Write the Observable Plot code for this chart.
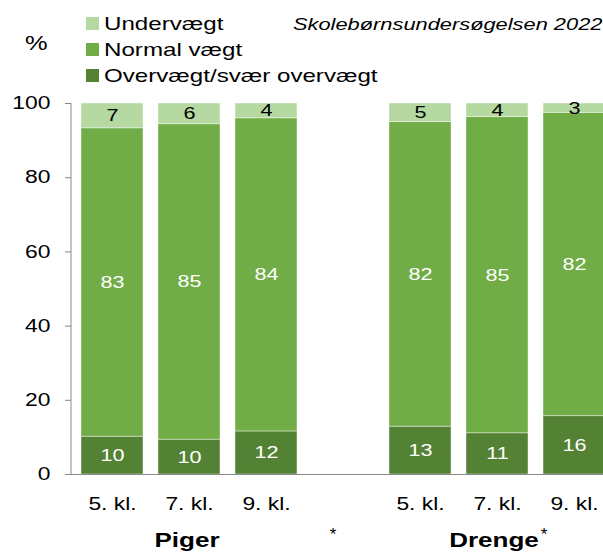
<!DOCTYPE html>
<html><head><meta charset="utf-8">
<script src="https://cdn.jsdelivr.net/npm/d3@7"></script>
<script src="https://cdn.jsdelivr.net/npm/@observablehq/plot@0.6"></script>
<style>html,body{margin:0;padding:0;background:#fff;overflow:hidden}</style>
</head><body><div id="chart"></div>
<script>
const groups = ["Piger", "Drenge"];
const categories = ["5. kl.", "7. kl.", "9. kl."];
const seriesNames = ["Overvægt/svær overvægt", "Normal vægt", "Undervægt"];
const seriesColors = ["#548235", "#70ad47", "#b5d9a1"];
// bar order: Piger 5,7,9 then Drenge 5,7,9
const overvaegt = [10.2, 9.4, 11.6, 12.9, 11.1, 15.7];
const normalvaegt = [83.1, 85.0, 84.4, 82.1, 85.2, 81.8];
const undervaegt = [6.7, 5.6, 4.0, 5.0, 3.7, 2.5];
const overvaegtLabels = [10, 10, 12, 13, 11, 16];
const normalLabels = [83, 85, 84, 82, 85, 82];
const underLabels = [7, 6, 4, 5, 4, 3];
const yTicks = [0, 20, 40, 60, 80, 100];
const subtitle = "Skolebørnsundersøgelsen 2022";
const yUnit = "%";

const STRETCH = 1.27;
const FONT = "'Liberation Sans', Arial, sans-serif";

const keys = [];
groups.forEach(g => categories.forEach(c => keys.push(g + "|" + c)));
const xDomain = [...keys.slice(0, 3), "gap", ...keys.slice(3)];

const rows = [];
keys.forEach((k, i) => {
  const vals = [overvaegt[i], normalvaegt[i], undervaegt[i]];
  const labs = [overvaegtLabels[i], normalLabels[i], underLabels[i]];
  let acc = 0;
  vals.forEach((v, j) => {
    rows.push({key: k, series: seriesNames[j], y1: acc, y2: acc + v, ym: acc + v / 2, label: String(labs[j])});
    acc += v;
  });
});

const plot = Plot.plot({
  width: 603, height: 554,
  marginTop: 103, marginBottom: 80, marginLeft: 71, marginRight: 0,
  style: {fontFamily: FONT, overflow: "hidden", background: "white", color: "black"},
  x: {domain: xDomain, range: [71, 614], paddingInner: 0.2, paddingOuter: 0.117, axis: null},
  y: {domain: [0, 100], axis: null},
  color: {domain: seriesNames, range: seriesColors},
  marks: [
    Plot.barY(rows, {x: "key", y1: "y1", y2: "y2", fill: "series", stroke: "#ffffff", strokeWidth: 0.6, strokeOpacity: 0.7}),
    Plot.text(rows.filter(d => d.series !== "Undervægt"), {x: "key", y: "ym", text: "label", fill: "white", fontSize: 17}),
    Plot.text(rows.filter(d => d.series === "Undervægt"), {x: "key", y: "ym", text: "label", fill: "black", fontSize: 17}),
    Plot.ruleY([0], {stroke: "#898989", strokeWidth: 1}),
    Plot.axisY({ticks: yTicks, tickSize: 6, tickPadding: 15, fontSize: 18, stroke: "#898989", fill: "black", label: null}),
    Plot.axisX({domain: xDomain, tickSize: 0, tickPadding: 23, fontSize: 18, fill: "black", label: null,
      tickFormat: k => k === "gap" ? "" : k.split("|")[1]})
  ]
});
document.getElementById("chart").appendChild(plot);

const svg = d3.select(plot);
const xs = plot.scale("x");
const ys = plot.scale("y");
const bw = xs.bandwidth;

// y axis line
svg.append("line").attr("x1", 71).attr("x2", 71)
  .attr("y1", ys.apply(0)).attr("y2", ys.apply(100))
  .attr("stroke", "#898989").attr("stroke-width", 1);

const ann = svg.append("g").attr("font-family", FONT).attr("fill", "black").attr("text-anchor", "start");

// unit
ann.append("text").attr("x", 25).attr("y", 50).attr("font-size", 20).attr("text-anchor", "start").text(yUnit);

// legend (top to bottom: Undervægt, Normal vægt, Overvægt)
const legendOrder = [2, 1, 0];
legendOrder.forEach((si, r) => {
  const by = 30 + r * 26;
  ann.append("rect").attr("x", 86).attr("y", by - 13).attr("width", 13).attr("height", 13).attr("fill", seriesColors[si]);
  ann.append("text").attr("x", 104).attr("y", by).attr("font-size", 19).attr("text-anchor", "start").text(seriesNames[si]);
});

// subtitle
ann.append("text").attr("x", 293).attr("y", 30).attr("font-size", 17.2).attr("font-style", "italic")
  .attr("text-anchor", "start").text(subtitle);

// group labels
const pigerX = xs.apply(keys[1]) + bw / 2 - 2;
const drengeX = xs.apply(keys[4]) + bw / 2 - 3;
ann.append("text").attr("x", pigerX).attr("y", 547).attr("text-anchor", "middle")
  .attr("font-size", 20.5).attr("font-weight", "bold").text(groups[0]);
ann.append("text").attr("x", drengeX).attr("y", 547).attr("text-anchor", "middle")
  .attr("font-size", 20.5).attr("font-weight", "bold").text(groups[1]);
ann.append("text").attr("x", 333).attr("y", 540).attr("text-anchor", "middle").attr("font-size", 17).text("*");
ann.append("text").attr("x", 544).attr("y", 540).attr("text-anchor", "middle").attr("font-size", 17).text("*");

// horizontal stretch of all text, as in the reference
plot.querySelectorAll("text").forEach(t => {
  if (!t.textContent || t.textContent === "*") return;
  const w = t.getComputedTextLength();
  if (w > 0) {
    t.setAttribute("textLength", (w * STRETCH).toFixed(2));
    t.setAttribute("lengthAdjust", "spacingAndGlyphs");
  }
});
</script>
</body></html>
